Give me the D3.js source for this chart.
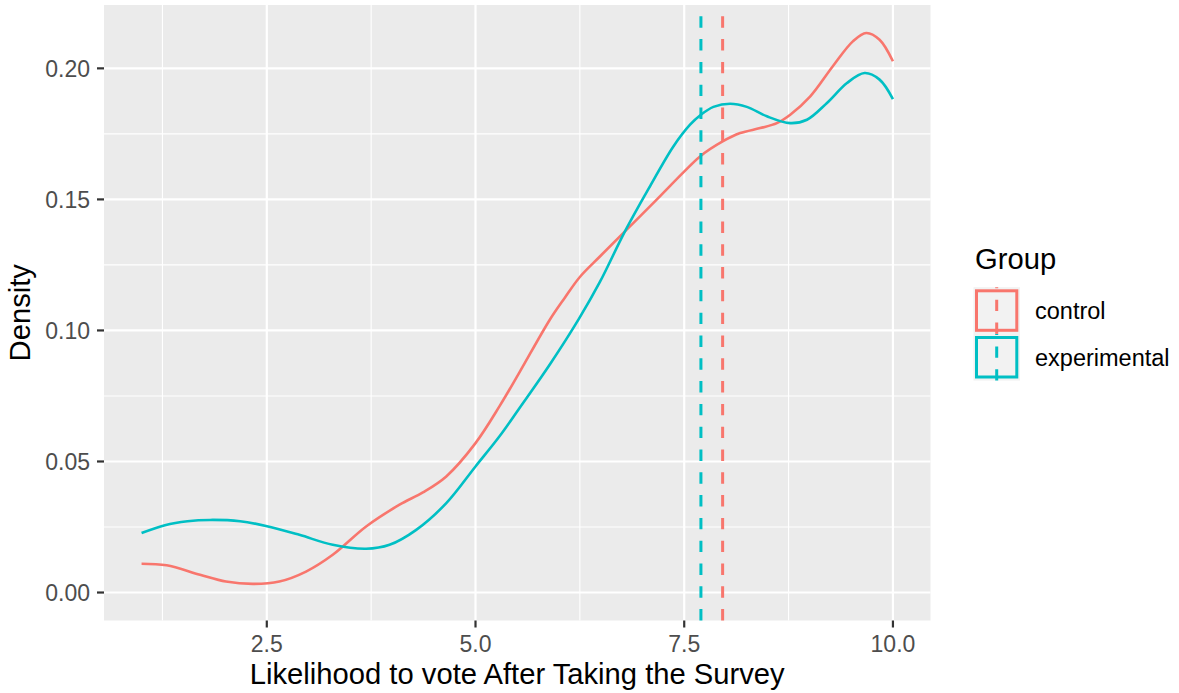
<!DOCTYPE html>
<html>
<head>
<meta charset="utf-8">
<script src="https://cdn.jsdelivr.net/npm/d3@7"></script>
<style>
  html, body { margin: 0; padding: 0; background: #ffffff; }
  svg { display: block; font-family: "Liberation Sans", Arial, Helvetica, sans-serif; }
</style>
</head>
<body>
<svg id="chart" width="1179" height="693"></svg>
<script>
// ---- data ----
const groups = ["control", "experimental"];
const groupColors = ["#F8766D", "#00BFC4"];
const groupMeans = [7.96, 7.70];

const controlX = [1.0, 1.30, 1.70, 2.01, 2.33, 2.65, 2.97, 3.29, 3.69, 4.09, 4.37, 4.65, 5.0, 5.29, 5.53, 5.89, 6.07, 6.25, 6.49, 6.79, 7.17, 7.49, 7.69, 7.96, 8.17, 8.41, 8.61, 8.77, 9.01, 9.28, 9.52, 9.68, 9.84, 10.0];
const controlY = [0.0110, 0.0104, 0.0068, 0.0042, 0.0033, 0.0042, 0.0080, 0.0144, 0.0252, 0.0335, 0.0382, 0.0443, 0.0570, 0.0712, 0.0842, 0.1041, 0.1125, 0.1204, 0.1282, 0.1378, 0.1499, 0.1603, 0.1664, 0.1721, 0.1753, 0.1772, 0.1791, 0.1823, 0.1893, 0.2008, 0.2103, 0.2135, 0.2109, 0.2027];

const experimentalX = [1.0, 1.28, 1.55, 1.82, 2.18, 2.49, 2.89, 3.29, 3.69, 3.97, 4.29, 4.65, 5.0, 5.29, 5.53, 5.89, 6.24, 6.49, 6.79, 7.09, 7.37, 7.57, 7.70, 7.85, 8.05, 8.25, 8.49, 8.77, 8.97, 9.21, 9.45, 9.66, 9.84, 10.0];
const experimentalY = [0.0227, 0.0257, 0.0272, 0.0277, 0.0272, 0.0254, 0.0220, 0.0182, 0.0167, 0.0182, 0.0239, 0.0341, 0.0481, 0.0597, 0.0705, 0.0870, 0.1045, 0.1185, 0.1378, 0.1550, 0.1702, 0.1785, 0.1823, 0.1853, 0.1865, 0.1853, 0.1817, 0.1791, 0.1804, 0.1868, 0.1944, 0.1982, 0.1957, 0.1883];

const xTicks = [2.5, 5.0, 7.5, 10.0];
const xMinor = [1.25, 3.75, 6.25, 8.75];
const yTicks = [0.00, 0.05, 0.10, 0.15, 0.20];
const yMinor = [0.025, 0.075, 0.125, 0.175];

const xTitle = "Likelihood to vote After Taking the Survey";
const yTitle = "Density";
const legendTitle = "Group";

// ---- layout ----
const panel = { left: 104, right: 930.5, top: 5, bottom: 620.5 };
const svg = d3.select("#chart");

const x = d3.scaleLinear().domain([0.55, 10.45]).range([panel.left, panel.right]);
const y = d3.scaleLinear().domain([-0.010675, 0.224175]).range([panel.bottom, panel.top]);

// panel background
svg.append("rect")
  .attr("x", panel.left).attr("y", panel.top)
  .attr("width", panel.right - panel.left).attr("height", panel.bottom - panel.top)
  .attr("fill", "#EBEBEB");

const grid = svg.append("g");
grid.selectAll(".xminor").data(xMinor).enter().append("line")
  .attr("x1", d => x(d)).attr("x2", d => x(d))
  .attr("y1", panel.top).attr("y2", panel.bottom)
  .attr("stroke", "#ffffff").attr("stroke-width", 1.1);
grid.selectAll(".yminor").data(yMinor).enter().append("line")
  .attr("y1", d => y(d)).attr("y2", d => y(d))
  .attr("x1", panel.left).attr("x2", panel.right)
  .attr("stroke", "#ffffff").attr("stroke-width", 1.1);
grid.selectAll(".xmajor").data(xTicks).enter().append("line")
  .attr("x1", d => x(d)).attr("x2", d => x(d))
  .attr("y1", panel.top).attr("y2", panel.bottom)
  .attr("stroke", "#ffffff").attr("stroke-width", 2.2);
grid.selectAll(".ymajor").data(yTicks).enter().append("line")
  .attr("y1", d => y(d)).attr("y2", d => y(d))
  .attr("x1", panel.left).attr("x2", panel.right)
  .attr("stroke", "#ffffff").attr("stroke-width", 2.2);

// density curves
const series = [
  { name: groups[0], xs: controlX, ys: controlY, color: groupColors[0], mean: groupMeans[0] },
  { name: groups[1], xs: experimentalX, ys: experimentalY, color: groupColors[1], mean: groupMeans[1] }
];
const line = d3.line()
  .x(d => x(d[0])).y(d => y(d[1]))
  .curve(d3.curveCatmullRom.alpha(0.5));

svg.append("g").selectAll("path").data(series).enter().append("path")
  .attr("d", s => line(s.xs.map((v, i) => [v, s.ys[i]])))
  .attr("fill", "none")
  .attr("stroke", s => s.color)
  .attr("stroke-width", 2.6)
  .attr("stroke-linejoin", "round");

// mean lines (dashed, drawn from bottom to top)
svg.append("g").selectAll("line").data(series).enter().append("line")
  .attr("x1", s => x(s.mean)).attr("x2", s => x(s.mean))
  .attr("y1", panel.bottom).attr("y2", panel.top)
  .attr("stroke", s => s.color)
  .attr("stroke-width", 3)
  .attr("stroke-dasharray", "11.4,11.4");

// axes ticks
const axisG = svg.append("g");
axisG.selectAll(".yt").data(yTicks).enter().append("line")
  .attr("x1", panel.left - 7).attr("x2", panel.left)
  .attr("y1", d => y(d)).attr("y2", d => y(d))
  .attr("stroke", "#333333").attr("stroke-width", 2.2);
axisG.selectAll(".ytl").data(yTicks).enter().append("text")
  .attr("x", 90).attr("y", d => y(d))
  .attr("dy", "0.36em")
  .attr("text-anchor", "end")
  .attr("font-size", 23).attr("fill", "#4D4D4D")
  .text(d => d3.format(".2f")(d));
axisG.selectAll(".xt").data(xTicks).enter().append("line")
  .attr("y1", panel.bottom).attr("y2", panel.bottom + 7)
  .attr("x1", d => x(d)).attr("x2", d => x(d))
  .attr("stroke", "#333333").attr("stroke-width", 2.2);
axisG.selectAll(".xtl").data(xTicks).enter().append("text")
  .attr("x", d => x(d)).attr("y", 652)
  .attr("text-anchor", "middle")
  .attr("font-size", 23).attr("fill", "#4D4D4D")
  .text(d => d3.format(".1f")(d));

// axis titles
svg.append("text")
  .attr("x", (panel.left + panel.right) / 2).attr("y", 684)
  .attr("text-anchor", "middle").attr("font-size", 29.2).attr("fill", "#000")
  .text(xTitle);
svg.append("text")
  .attr("transform", `translate(30,${(panel.top + panel.bottom) / 2}) rotate(-90)`)
  .attr("text-anchor", "middle").attr("font-size", 29.2).attr("fill", "#000")
  .text(yTitle);

// legend
const leg = svg.append("g");
leg.append("text").attr("x", 975).attr("y", 269)
  .attr("font-size", 29.2).attr("fill", "#000").text(legendTitle);
const keyTop = [287.2, 333.9];
const keyH = 46.7;
series.forEach((s, i) => {
  const t = keyTop[i];
  leg.append("rect")
    .attr("x", 973.5).attr("y", t).attr("width", 46.5).attr("height", keyH)
    .attr("fill", "#F2F2F2");
  leg.append("rect")
    .attr("x", 976.5).attr("y", t + 3.6).attr("width", 40.3).attr("height", keyH - 7.2)
    .attr("fill", "none").attr("stroke", s.color).attr("stroke-width", 3);
  leg.append("line")
    .attr("x1", 996.7).attr("x2", 996.7)
    .attr("y1", t + keyH).attr("y2", t)
    .attr("stroke", s.color).attr("stroke-width", 3)
    .attr("stroke-dasharray", "11.4,11.4");
  leg.append("text").attr("x", 1035).attr("y", t + keyH / 2).attr("dy", "0.36em")
    .attr("font-size", 23.5).attr("fill", "#000").text(s.name);
});
</script>
</body>
</html>
